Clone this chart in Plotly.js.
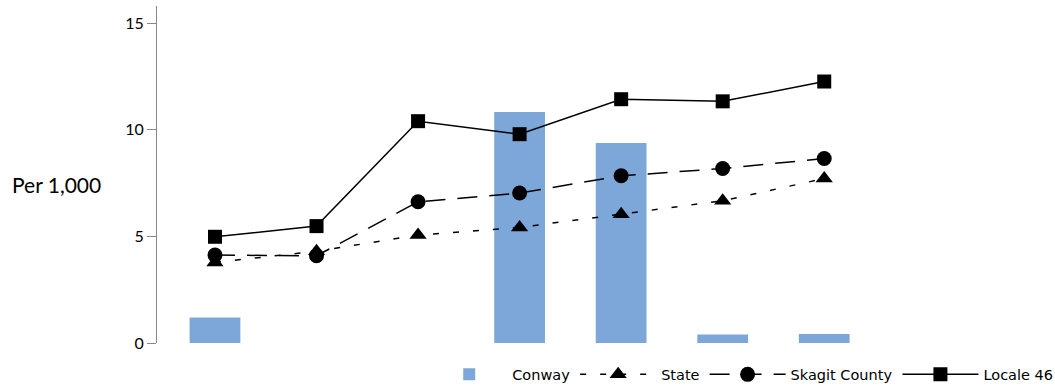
<!DOCTYPE html>
<html>
<head>
<meta charset="utf-8">
<script src="https://cdn.plot.ly/plotly-3.0.1.min.js"></script>
<style>html,body{margin:0;padding:0;background:#fff;}#chart{width:1055px;height:386px;}</style>
</head>
<body>
<div id="chart"></div>
<script>
var categories = ["1", "2", "3", "4", "5", "6", "7"];
var conway = [1.2, null, null, 10.83, 9.38, 0.4, 0.42];
var stateVals = [3.78, 4.3, 5.06, 5.42, 6.04, 6.67, 7.71];
var skagit = [4.12, 4.09, 6.62, 7.03, 7.84, 8.18, 8.65];
var locale46 = [4.98, 5.48, 10.4, 9.79, 11.43, 11.33, 12.26];
var yTicks = [0, 5, 10, 15];

var xIdx = categories.map(function(c, i){ return i; });

var traces = [
  {type:'bar', name:'Conway', x:xIdx, y:conway, width:0.5,
   marker:{color:'#7DA7D8'}},
  {type:'scatter', mode:'lines+markers', name:'State', x:xIdx, y:stateVals,
   line:{color:'#000', width:1.5, dash:'6px,14px'},
   marker:{symbol:'triangle-up', size:15, color:'#000'}},
  {type:'scatter', mode:'lines+markers', name:'Skagit County', x:xIdx, y:skagit,
   line:{color:'#000', width:1.5, dash:'20px,12px'},
   marker:{symbol:'circle', size:15, color:'#000'}},
  {type:'scatter', mode:'lines+markers', name:'Locale 46', x:xIdx, y:locale46,
   line:{color:'#000', width:1.5},
   marker:{symbol:'square', size:14, color:'#000'}}
];

var layout = {
  width:1055, height:386,
  margin:{l:157, r:180, t:6, b:43},
  paper_bgcolor:'#fff', plot_bgcolor:'#fff',
  font:{family:'Lato, sans-serif', color:'#000'},
  showlegend:true,
  legend:{orientation:'h', xref:'container', yref:'container', x:0.404, xanchor:'left', y:0.03, yanchor:'middle',
          font:{family:'DejaVu Sans', size:14.5, color:'#000'}, itemwidth:76, bgcolor:'rgba(0,0,0,0)'},
  xaxis:{range:[-0.571, 6.5], showticklabels:false, ticks:'', showline:false, showgrid:false, zeroline:false,
         tickvals:xIdx, ticktext:categories},
  yaxis:{range:[0, 15.8], tickvals:yTicks, ticktext:yTicks.map(String), ticks:'outside', ticklen:9, tickcolor:'#888',
         showline:true, linecolor:'#888', linewidth:1, showgrid:false, zeroline:false,
         tickfont:{family:'Lato', size:16, color:'#000'}},
  annotations:[{text:'Per 1,000', xref:'paper', yref:'paper', x:-0.2047, y:0.469, xanchor:'left', yanchor:'middle',
                showarrow:false, font:{family:'Lato', size:21, color:'#000'}}]
};
Plotly.newPlot('chart', traces, layout, {displayModeBar:false, staticPlot:true});
</script>
</body>
</html>
